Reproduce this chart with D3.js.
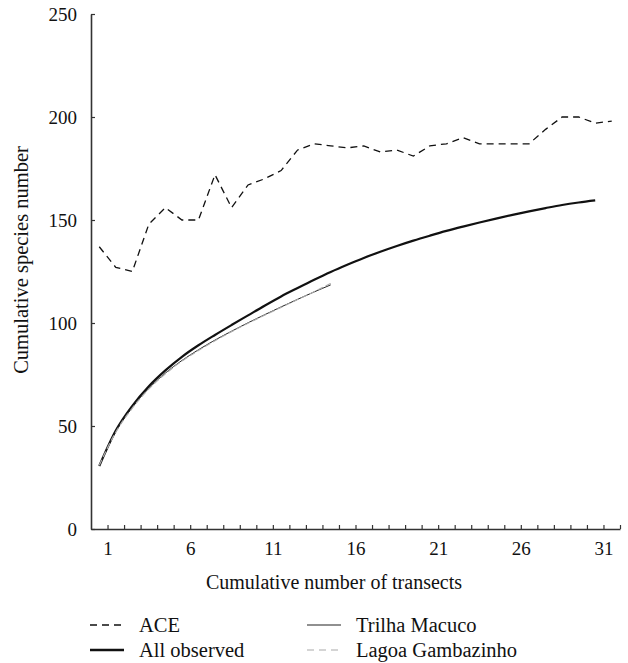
<!DOCTYPE html>
<html>
<head>
<meta charset="utf-8">
<script src="https://cdn.jsdelivr.net/npm/d3@7"></script>
<style>
  body { margin: 0; background: #fff; }
  text { font-family: "Liberation Serif", "DejaVu Serif", serif; fill: #111; }
</style>
</head>
<body>
<div class="chart"></div>
<script>
// transect numbers (categories)
var transects = d3.range(1, 33);
var xTickLabels = [1, 6, 11, 16, 21, 26, 31];
var yTicks = [0, 50, 100, 150, 200, 250];

// series values
var aceValues = [137, 127, 125, 148, 156, 150, 150, 172, 156, 167, 170, 174, 184, 187, 186, 185,
                 186, 183, 184, 181, 186, 187, 190, 187, 187, 187, 187, 194, 200, 200, 197, 198];
var allObserved = [30.6, 47.8, 59.8, 69.3, 77, 83.6, 89.2, 94.2, 99, 103.7, 108.4, 112.9, 117, 121, 124.8,
                   128.3, 131.6, 134.6, 137.4, 140, 142.4, 144.7, 146.8, 148.8, 150.7, 152.5, 154.2,
                   155.8, 157.3, 158.5, 159.5];
var trilhaMacuco = [30.6, 47.3, 59, 68.3, 75.7, 81.8, 87, 91.7, 96, 100.1, 104, 107.8, 111.5, 115.1, 118.5];
var lagoaGambazinho = [31, 47, 58.7, 68, 75.4, 81.5, 86.7, 91.4, 95.8, 99.9, 103.8, 107.6, 111.4, 115.2, 119.2];

var svgWidth = 628, svgHeight = 663;
var margin = { top: 14, left: 91, right: 8, bottom: 134 };
var width = svgWidth - margin.left - margin.right;
var height = svgHeight - margin.top - margin.bottom;

var svg = d3.select(".chart").append("svg")
  .attr("width", svgWidth)
  .attr("height", svgHeight);

var chartGroup = svg.append("g")
  .attr("transform", `translate(${margin.left}, ${margin.top})`);

// categories sit between the tick marks, ticks at category boundaries
var xScale = d3.scaleLinear().domain([0, 32]).range([0, width]);
var yScale = d3.scaleLinear().domain([0, 250]).range([height, 0]);

var xAxis = d3.axisBottom(xScale)
  .tickValues(transects)
  .tickSizeInner(-4)
  .tickSizeOuter(0)
  .tickPadding(13)
  .tickFormat(d => xTickLabels.indexOf(d) >= 0 ? d : "");

var yAxis = d3.axisLeft(yScale)
  .tickValues(yTicks)
  .tickSizeInner(-4)
  .tickSizeOuter(0)
  .tickPadding(14);

var gx = chartGroup.append("g")
  .attr("transform", `translate(0, ${height})`)
  .call(xAxis);
var gy = chartGroup.append("g").call(yAxis);

[gx, gy].forEach(function(g) {
  g.select(".domain").attr("stroke", "#333").attr("stroke-width", 1.6);
  g.selectAll(".tick line").attr("stroke", "#333").attr("stroke-width", 1.2);
  g.selectAll(".tick text")
    .attr("font-family", "Liberation Serif, serif")
    .attr("font-size", 19)
    .attr("fill", "#111");
});

// x position: category centre
var line = d3.line()
  .x((d, i) => xScale(i + 0.5))
  .y(d => yScale(d));
var smooth = d3.line()
  .x((d, i) => xScale(i + 0.5))
  .y(d => yScale(d))
  .curve(d3.curveMonotoneX);

chartGroup.append("path")
  .datum(aceValues)
  .attr("d", line)
  .attr("fill", "none")
  .attr("stroke", "#111")
  .attr("stroke-width", 1.3)
  .attr("stroke-dasharray", "7,5");

chartGroup.append("path")
  .datum(allObserved)
  .attr("d", smooth)
  .attr("fill", "none")
  .attr("stroke", "#111")
  .attr("stroke-width", 2.2);

chartGroup.append("path")
  .datum(trilhaMacuco)
  .attr("d", smooth)
  .attr("fill", "none")
  .attr("stroke", "#222")
  .attr("stroke-width", 1);

chartGroup.append("path")
  .datum(lagoaGambazinho)
  .attr("d", smooth)
  .attr("fill", "none")
  .attr("stroke", "#aaa")
  .attr("stroke-width", 1.2)
  .attr("stroke-dasharray", "6,3");

// axis titles
svg.append("text")
  .attr("x", 334)
  .attr("y", 589)
  .attr("text-anchor", "middle")
  .attr("font-size", 20)
  .text("Cumulative number of transects");

svg.append("text")
  .attr("transform", "translate(28, 260) rotate(-90)")
  .attr("text-anchor", "middle")
  .attr("font-size", 20.5)
  .text("Cumulative species number");

// legend
var legendItems = [
  { name: "ACE", x: 90, y: 625, stroke: "#111", width: 1.3, dash: "7,5" },
  { name: "All observed", x: 90, y: 650, stroke: "#111", width: 2.4, dash: null },
  { name: "Trilha Macuco", x: 307, y: 625, stroke: "#222", width: 1.1, dash: null },
  { name: "Lagoa Gambazinho", x: 307, y: 650, stroke: "#aaa", width: 1.2, dash: "7,5" }
];

var legend = svg.selectAll(".legend")
  .data(legendItems)
  .enter()
  .append("g")
  .attr("class", "legend")
  .attr("transform", d => `translate(${d.x}, ${d.y})`);

legend.append("line")
  .attr("x1", 0)
  .attr("x2", 34)
  .attr("stroke", d => d.stroke)
  .attr("stroke-width", d => d.width)
  .attr("stroke-dasharray", d => d.dash);

legend.append("text")
  .attr("x", 49)
  .attr("dy", "0.35em")
  .attr("font-size", 20.5)
  .text(d => d.name);
</script>
</body>
</html>
